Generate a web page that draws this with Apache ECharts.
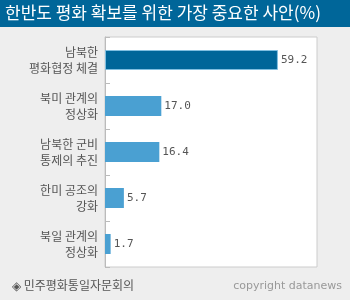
<!DOCTYPE html>
<html><head><meta charset="utf-8">
<script src="https://cdn.jsdelivr.net/npm/echarts@6/dist/echarts.min.js"></script>
<style>html,body{margin:0;padding:0;background:#eeeeee}#c{width:350px;height:300px}</style>
</head><body><div id="c"></div>
<script>
const titleText = '한반도 평화 확보를 위한 가장 중요한 사안(%)';
const categories = ['남북한\n평화협정 체결', '북미 관계의\n정상화', '남북한 군비\n통제의 추진', '한미 공조의\n강화', '북일 관계의\n정상화'];
const values = [59.2, 17.0, 16.4, 5.7, 1.7];
const sourceText = '◈ 민주평화통일자문회의';
const creditText = 'copyright datanews';

const chart = echarts.init(document.getElementById('c'), null, {renderer: 'canvas'});
chart.setOption({
  animation: false,
  backgroundColor: '#eeeeee',
  grid: {left: 105, top: 37, right: 33, bottom: 33, show: true, backgroundColor: '#ffffff', borderColor: '#cccccc', borderWidth: 1},
  xAxis: {
    type: 'value', min: 0, max: 71,
    breaks: [{start: 20, end: 50, gap: 23}],
    breakArea: {show: false},
    axisLine: {show: false}, axisTick: {show: false}, axisLabel: {show: false}, splitLine: {show: false}
  },
  yAxis: {
    type: 'category', data: categories, inverse: true,
    axisLine: {show: true, lineStyle: {color: '#bbbbbb', width: 1}},
    axisTick: {show: true, inside: true, length: 5, lineStyle: {color: '#bbbbbb'}},
    axisLabel: {color: '#555555', fontSize: 12, lineHeight: 16, margin: 7, fontFamily: 'Noto Sans CJK KR'}
  },
  series: [{
    type: 'bar', barWidth: 20,
    data: values.map((v, i) => i === 0
      ? {value: v, itemStyle: {color: '#006699', borderColor: '#80bfe0', borderWidth: 1}}
      : {value: v, itemStyle: {color: '#4aa0d2'}}),
    label: {show: true, position: 'right', distance: 3, color: '#555555', fontSize: 11, fontFamily: 'DejaVu Sans Mono', formatter: p => p.value.toFixed(1)}
  }],
  graphic: [
    {type: 'rect', left: 0, top: 0, shape: {width: 350, height: 27}, style: {fill: '#006699'}, z: 10},
    {type: 'text', left: 5, top: 4, style: {text: titleText, fill: '#ffffff', fontSize: 17, fontFamily: 'Noto Sans CJK KR'}, z: 11},
    {type: 'text', left: 12, top: 279, style: {text: sourceText, fill: '#555555', fontSize: 12, fontFamily: 'Noto Sans CJK KR'}},
    {type: 'text', right: 8, top: 281, style: {text: creditText, fill: '#999999', fontSize: 11, fontFamily: 'DejaVu Sans'}}
  ]
});
</script></body></html>
